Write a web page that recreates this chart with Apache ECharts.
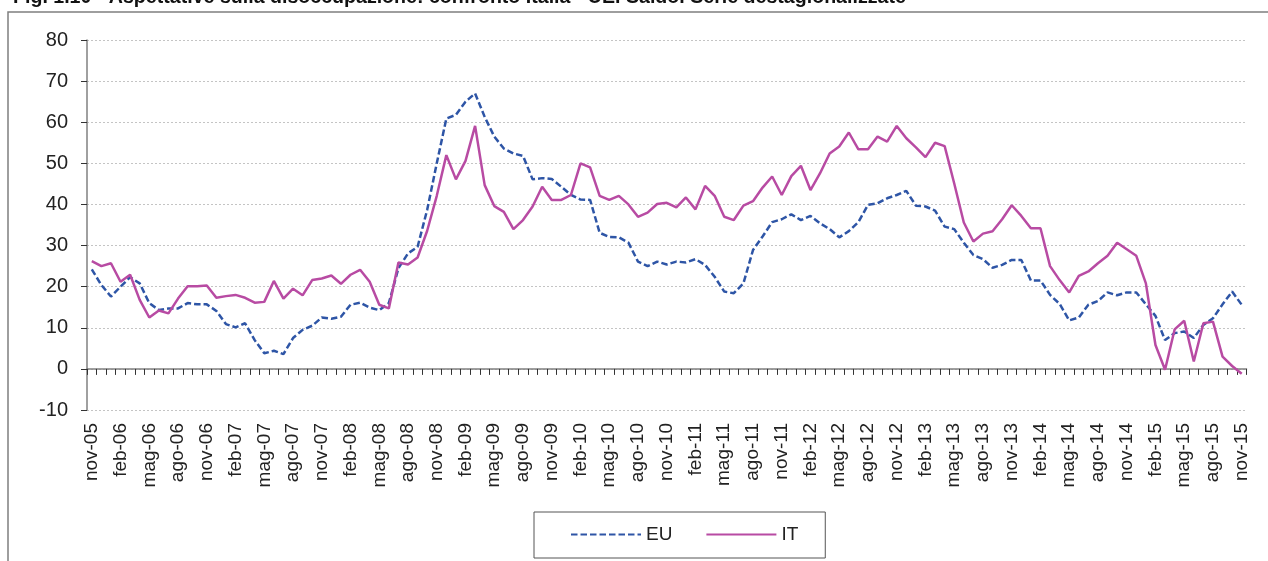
<!DOCTYPE html>
<html><head><meta charset="utf-8">
<script src="https://cdn.jsdelivr.net/npm/echarts@6/dist/echarts.min.js"></script>
<style>html,body{margin:0;padding:0;background:#fff;} #c{width:1268px;height:561px;}</style>
</head><body><div id="c"></div>
<script>
// ---- data ----
const monthNames = ['gen','feb','mar','apr','mag','giu','lug','ago','set','ott','nov','dic'];
const startYear = 2005, startMonth = 10, nMonths = 121; // nov-05 .. nov-15
const categories = [];
for (let i = 0; i < nMonths; i++) {
  const m = (startMonth + i) % 12;
  const y = startYear + Math.floor((startMonth + i) / 12);
  categories.push(monthNames[m] + '-' + String(y % 100).padStart(2, '0'));
}
const seriesEU = [
  24.2,20.4,17.6,20.0,22.3,20.8,16.0,14.3,14.7,14.7,
  16.0,15.7,15.7,14.1,10.9,10.1,11.1,7.0,3.8,4.4,
  3.6,7.5,9.5,10.5,12.5,12.2,12.7,15.6,16.1,14.9,
  14.3,16.0,24.5,28.1,29.7,38.7,50.0,60.9,61.8,65.0,
  67.0,61.3,56.5,53.6,52.4,51.8,46.1,46.4,46.2,44.3,
  42.3,41.2,41.1,33.1,32.1,32.0,30.7,26.1,25.0,26.1,
  25.4,26.1,25.9,26.7,25.3,22.4,18.8,18.4,20.8,28.9,
  32.2,35.7,36.4,37.6,36.2,37.2,35.4,34.0,32.0,33.5,
  35.7,39.9,40.3,41.5,42.3,43.3,39.7,39.5,38.5,34.6,
  34.0,30.7,27.7,26.7,24.6,25.3,26.5,26.5,21.5,21.5,
  18.0,15.8,11.8,12.5,15.6,16.5,18.6,17.9,18.6,18.6,
  15.7,12.9,7.0,8.7,9.1,7.5,10.7,12.3,15.7,18.8,
  15.6
];
const seriesIT = [
  26.2,25.0,25.7,21.2,22.9,16.8,12.5,14.2,13.5,17.1,
  20.1,20.1,20.3,17.3,17.7,18.0,17.3,16.1,16.3,21.4,
  17.1,19.5,17.9,21.6,22.0,22.7,20.7,22.9,24.1,21.2,
  15.6,14.7,25.9,25.4,27.1,33.6,42.1,52.0,46.1,50.6,
  59.1,44.7,39.6,38.2,34.0,36.2,39.5,44.3,41.1,41.1,
  42.3,50.0,49.0,42.1,41.1,42.1,40.0,37.0,38.0,40.1,
  40.4,39.3,41.7,38.8,44.5,42.1,37.0,36.2,39.7,40.8,
  44.1,46.8,42.3,46.9,49.4,43.5,47.6,52.4,54.1,57.5,
  53.4,53.4,56.5,55.3,59.1,56.1,53.9,51.5,55.0,54.2,
  45.1,35.6,31.0,32.9,33.5,36.4,39.8,37.2,34.2,34.2,
  25.0,21.6,18.6,22.6,23.7,25.7,27.5,30.7,29.1,27.5,
  20.8,5.8,-0.2,9.6,11.7,1.8,11.1,11.5,3.0,0.7,
  -1.2
];
const seriesNames = ['EU', 'IT'];
const yMin = -10, yMax = 80, yStep = 10;
const titleText = 'Fig. 1.10 - Aspettative sulla disoccupazione: confronto Italia - UE. Saldo. Serie destagionalizzate';

// ---- chart ----
const FONT = '"Liberation Sans Narrow", "Liberation Sans", Arial, sans-serif';
const chart = echarts.init(document.getElementById('c'), null, {renderer: 'canvas'});
chart.setOption({
  animation: false,
  backgroundColor: '#fff',
  graphic: [
    {type: 'rect', z: 0, shape: {x: 8, y: 12, width: 1400, height: 700},
     style: {fill: 'none', stroke: '#7f7f7f', lineWidth: 1.5}},
    {type: 'text', z: 10, x: 13, y: -12.5,
     style: {text: titleText, font: 'bold 19.6px ' + FONT, fill: '#111', verticalAlign: 'top'}}
  ],
  grid: {left: 87, right: 21.5, top: 40, bottom: 151, containLabel: false},
  legend: {
    data: seriesNames, left: 534, top: 512, orient: 'horizontal',
    itemWidth: 70, itemHeight: 14, itemGap: 33,
    padding: [12, 27, 13, 36],
    borderColor: '#555', borderWidth: 1,
    itemStyle: {opacity: 0, borderWidth: 0},
    textStyle: {fontSize: 19, fontFamily: FONT, color: '#222', lineHeight: 21}
  },
  xAxis: [
    {type: 'category', data: categories, position: 'bottom', boundaryGap: true,
     axisLine: {show: false, onZero: false}, axisTick: {show: false},
     axisLabel: {interval: 2, rotate: 90, margin: 13, fontSize: 19, fontFamily: FONT, color: '#222'},
     splitLine: {show: false}},
    {type: 'category', data: categories, position: 'top', boundaryGap: true,
     axisLine: {show: true, onZero: true, lineStyle: {color: '#808080', width: 1.5}},
     axisTick: {show: true, interval: 0, inside: true, length: 6, lineStyle: {color: '#333', width: 1}},
     axisLabel: {show: false}, splitLine: {show: false}}
  ],
  yAxis: {
    type: 'value', min: yMin, max: yMax, interval: yStep,
    axisLine: {show: true, onZero: false, lineStyle: {color: '#808080', width: 1.5}},
    axisTick: {show: true, length: 6, lineStyle: {color: '#333', width: 1}},
    axisLabel: {margin: 19, fontSize: 20, fontFamily: FONT, color: '#222'},
    splitLine: {show: true, lineStyle: {color: '#c4c4c4', type: [2, 2], width: 1}}
  },
  series: [
    {name: 'EU', type: 'line', data: seriesEU, xAxisIndex: 0, yAxisIndex: 0,
     symbol: 'none', z: 3,
     lineStyle: {color: '#2E55A6', width: 2.5, type: [6.5, 3]},
     itemStyle: {color: '#2E55A6'}},
    {name: 'IT', type: 'line', data: seriesIT, xAxisIndex: 0, yAxisIndex: 0,
     symbol: 'none', z: 4,
     lineStyle: {color: '#B84BA3', width: 2.5},
     itemStyle: {color: '#B84BA3'}}
  ]
});
</script>
</body></html>
